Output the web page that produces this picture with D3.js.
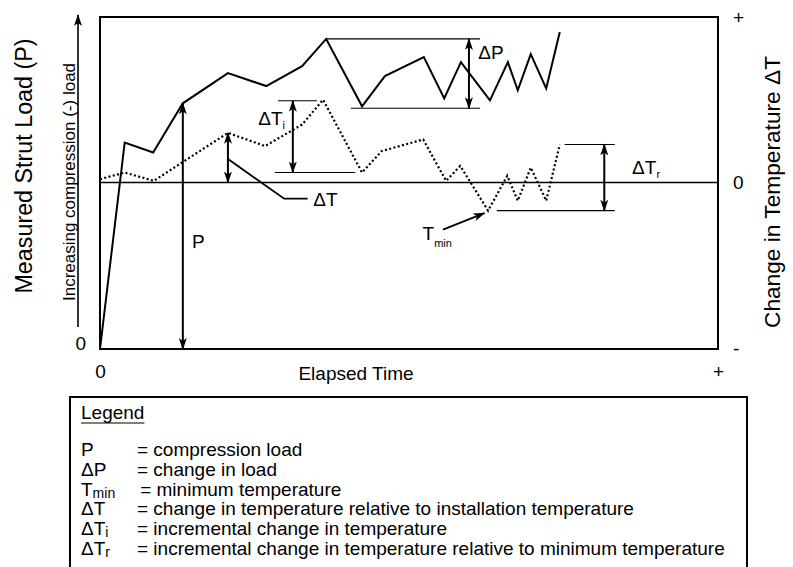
<!DOCTYPE html>
<html lang="en">
<head>
<meta charset="utf-8">
<title>Strut Load and Temperature</title>
<script src="https://cdn.jsdelivr.net/npm/d3@7"></script>
<style>
  body { margin: 0; background: #fff; }
  text { font-family: "Liberation Sans", Arial, Helvetica, sans-serif; fill: #000; }
</style>
</head>
<body>
<script>
// elapsed time runs 0..100 across the frame, load 0..100, temperature -10..+10
var loadTime   = [0, 4.0, 8.6, 13.4, 20.7, 26.9, 32.7, 36.6, 42.4, 46.1, 52.4, 55.7, 58.4, 63.1, 66.0, 67.6, 69.7, 72.2, 74.4];
var loadValues = [0, 62.2, 59.2, 74.0, 83.1, 79.2, 85.2, 93.4, 73.1, 82.2, 87.9, 75.5, 86.4, 74.9, 86.4, 77.9, 88.8, 78.5, 95.5];
var tempTime   = [0, 4.0, 8.7, 20.7, 26.7, 32.7, 36.1, 42.4, 45.6, 52.3, 56.0, 58.3, 62.8, 65.9, 67.6, 69.7, 72.2, 74.4];
var tempValues = [0.2, 0.6, 0.1, 3.0, 2.2, 3.5, 5.0, 0.6, 1.9, 2.6, 0.1, 1.0, -1.7, 0.4, -1.1, 0.9, -1.1, 2.3];

var timeTickValues = [0, 100];
var timeTickLabels = ["0", "+"];
var loadTickValues = [0];
var loadTickLabels = ["0"];
var tempTickValues = [-10, 0, 10];
var tempTickLabels = ["-", "0", "+"];

var legendSymbols = ["P", "\u0394P", "T", "\u0394T", "\u0394T", "\u0394T"];
var legendSubs    = ["", "", "min", "", "i", "r"];
var legendTexts   = [
  "= compression load",
  "= change in load",
  "= minimum temperature",
  "= change in temperature relative to installation temperature",
  "= incremental change in temperature",
  "= incremental change in temperature relative to minimum temperature"
];

var W = 793, H = 567;
var svg = d3.select("body").append("svg").attr("width", W).attr("height", H);

var x = d3.scaleLinear().domain([0, 100]).range([100, 718]);
var yLoad = d3.scaleLinear().domain([0, 100]).range([349, 17]);
var yTemp = d3.scaleLinear().domain([-10, 10]).range([348, 17]);

// arrow heads
var defs = svg.append("defs");
defs.append("marker").attr("id", "arr")
  .attr("viewBox", "0 0 12 8").attr("refX", 11).attr("refY", 4)
  .attr("markerWidth", 12).attr("markerHeight", 8)
  .attr("markerUnits", "userSpaceOnUse").attr("orient", "auto-start-reverse")
  .append("path").attr("d", "M0,0 L12,4 L0,8 L3,4 z").attr("fill", "#000");

// frame
svg.append("rect")
  .attr("x", x(0)).attr("y", yLoad(100))
  .attr("width", x(100) - x(0)).attr("height", yLoad(0) - yLoad(100))
  .attr("fill", "none").attr("stroke", "#000").attr("stroke-width", 2);

// zero temperature line
svg.append("line")
  .attr("x1", x(0)).attr("x2", x(100)).attr("y1", yTemp(0)).attr("y2", yTemp(0))
  .attr("stroke", "#000").attr("stroke-width", 1.3);

// axes (labels only)
function styleAxis(g) {
  g.select(".domain").remove();
  g.selectAll("text").attr("font-size", 19).attr("font-family", '"Liberation Sans", Arial, sans-serif');
}
svg.append("g").attr("transform", "translate(0," + yLoad(0) + ")")
  .call(d3.axisBottom(x).tickValues(timeTickValues).tickSize(0).tickPadding(16)
    .tickFormat(function(d, i) { return timeTickLabels[i]; }))
  .call(styleAxis);
svg.append("g").attr("transform", "translate(" + x(0) + ",0)")
  .call(d3.axisLeft(yLoad).tickValues(loadTickValues).tickSize(0).tickPadding(14)
    .tickFormat(function(d, i) { return loadTickLabels[i]; }))
  .call(styleAxis)
  .selectAll("text").attr("dy", "0.05em");
svg.append("g").attr("transform", "translate(" + x(100) + ",0)")
  .call(d3.axisRight(yTemp).tickValues(tempTickValues).tickSize(0).tickPadding(15)
    .tickFormat(function(d, i) { return tempTickLabels[i]; }))
  .call(styleAxis);

// left "increasing" arrow
svg.append("line").attr("x1", 78).attr("x2", 78).attr("y1", 327).attr("y2", 15)
  .attr("stroke", "#000").attr("stroke-width", 1.6).attr("marker-end", "url(#arr)");

// axis titles
svg.append("text").attr("transform", "translate(32,166) rotate(-90)")
  .attr("text-anchor", "middle").attr("font-size", 23.3).text("Measured Strut Load (P)");
svg.append("text").attr("transform", "translate(75,182) rotate(-90)")
  .attr("text-anchor", "middle").attr("font-size", 17).text("Increasing compression (-) load");
svg.append("text").attr("transform", "translate(780,192) rotate(-90)")
  .attr("text-anchor", "middle").attr("font-size", 22.7).text("Change in Temperature \u0394T");
svg.append("text").attr("x", 356).attr("y", 380)
  .attr("text-anchor", "middle").attr("font-size", 19).text("Elapsed Time");

// series
var loadPts = loadTime.map(function(t, i) { return [t, loadValues[i]]; });
var tempPts = tempTime.map(function(t, i) { return [t, tempValues[i]]; });

svg.append("path").datum(loadPts)
  .attr("d", d3.line().x(function(d) { return x(d[0]); }).y(function(d) { return yLoad(d[1]); }))
  .attr("fill", "none").attr("stroke", "#000").attr("stroke-width", 2).attr("stroke-linejoin", "miter");
svg.append("path").datum(tempPts)
  .attr("d", d3.line().x(function(d) { return x(d[0]); }).y(function(d) { return yTemp(d[1]); }))
  .attr("fill", "none").attr("stroke", "#000").attr("stroke-width", 2.2).attr("stroke-dasharray", "2,2.4");

// annotation helpers
function hline(t1, t2, yv) {
  svg.append("line").attr("x1", x(t1)).attr("x2", x(t2)).attr("y1", yv).attr("y2", yv)
    .attr("stroke", "#000").attr("stroke-width", 1.1);
}
function darrow(t, y1, y2, both) {
  svg.append("line").attr("x1", x(t)).attr("x2", x(t)).attr("y1", y1).attr("y2", y2)
    .attr("stroke", "#000").attr("stroke-width", 2)
    .attr("marker-end", "url(#arr)").attr("marker-start", both ? "url(#arr)" : null);
}
function label(t, yv, main, sub, subSize, subDy) {
  var tx = svg.append("text").attr("x", x(t)).attr("y", yv).attr("font-size", 19);
  tx.append("tspan").text(main);
  if (sub) tx.append("tspan").attr("font-size", subSize).attr("dy", subDy).text(sub);
}

var peakLoad = d3.max(loadValues.slice(0, 8));
var troughLoad = loadValues[8];

// P
darrow(loadTime[3], yLoad(loadValues[3]), yLoad(0), true);
label(14.9, yLoad(30.5), "P");

// delta P
hline(loadTime[7], 61.5, yLoad(peakLoad));
hline(40.6, 61.5, yLoad(troughLoad) + 2);
darrow(59.7, yLoad(peakLoad), yLoad(troughLoad) + 2, true);
label(61.2, yLoad(87.5), "\u0394P");

// delta T (from installation)
darrow(tempTime[3], yTemp(tempValues[3]), yTemp(0), true);
svg.append("path")
  .attr("d", d3.line()([[x(20.6), yTemp(1.45)], [x(29.8), yTemp(-0.98)], [x(33.6), yTemp(-0.98)]]))
  .attr("fill", "none").attr("stroke", "#000").attr("stroke-width", 1.8);
label(34.5, yTemp(-1.45), "\u0394T");

// delta Ti
hline(28.8, 35.1, yTemp(tempValues[6]) + 1);
hline(28.3, 41.3, yTemp(tempValues[7]));
darrow(31.2, yTemp(tempValues[6]) + 1, yTemp(tempValues[7]), true);
label(25.6, yTemp(3.5), "\u0394T", "i", 11, 4);

// T min
svg.append("line")
  .attr("x1", x(55.5)).attr("y1", yTemp(-2.85)).attr("x2", x(62.2)).attr("y2", yTemp(-1.85))
  .attr("stroke", "#000").attr("stroke-width", 1.8).attr("marker-end", "url(#arr)");
label(52.2, yTemp(-3.5), "T", "min", 11, 7);

// delta Tr
var lastTemp = tempValues[tempValues.length - 1];
var minTemp = d3.min(tempValues);
hline(75.2, 83.3, yTemp(lastTemp));
hline(64.2, 83.3, yTemp(minTemp));
darrow(81.6, yTemp(lastTemp), yTemp(minTemp), true);
label(86.1, yTemp(0.5), "\u0394T", "r", 11, 4);

// legend
var lg = svg.append("g");
lg.append("rect").attr("x", 70).attr("y", 397).attr("width", 677).attr("height", 200)
  .attr("fill", "none").attr("stroke", "#000").attr("stroke-width", 2);
var title = lg.append("text").attr("x", 81).attr("y", 419).attr("font-size", 19).text("Legend");
var tb = title.node().getBBox();
lg.append("line").attr("x1", tb.x).attr("x2", tb.x + tb.width).attr("y1", 423).attr("y2", 423)
  .attr("stroke", "#000").attr("stroke-width", 1.2);

legendTexts.forEach(function(txt, i) {
  var yy = 456 + i * 19.8;
  var s = lg.append("text").attr("x", 81).attr("y", yy).attr("font-size", 19);
  s.append("tspan").text(legendSymbols[i]);
  if (legendSubs[i]) s.append("tspan").attr("font-size", 14).attr("dy", 2).text(legendSubs[i]);
  var sb = s.node().getBBox();
  lg.append("text").attr("x", Math.max(137, sb.x + sb.width + 25)).attr("y", yy)
    .attr("font-size", 19).text(txt);
});
</script>
</body>
</html>
